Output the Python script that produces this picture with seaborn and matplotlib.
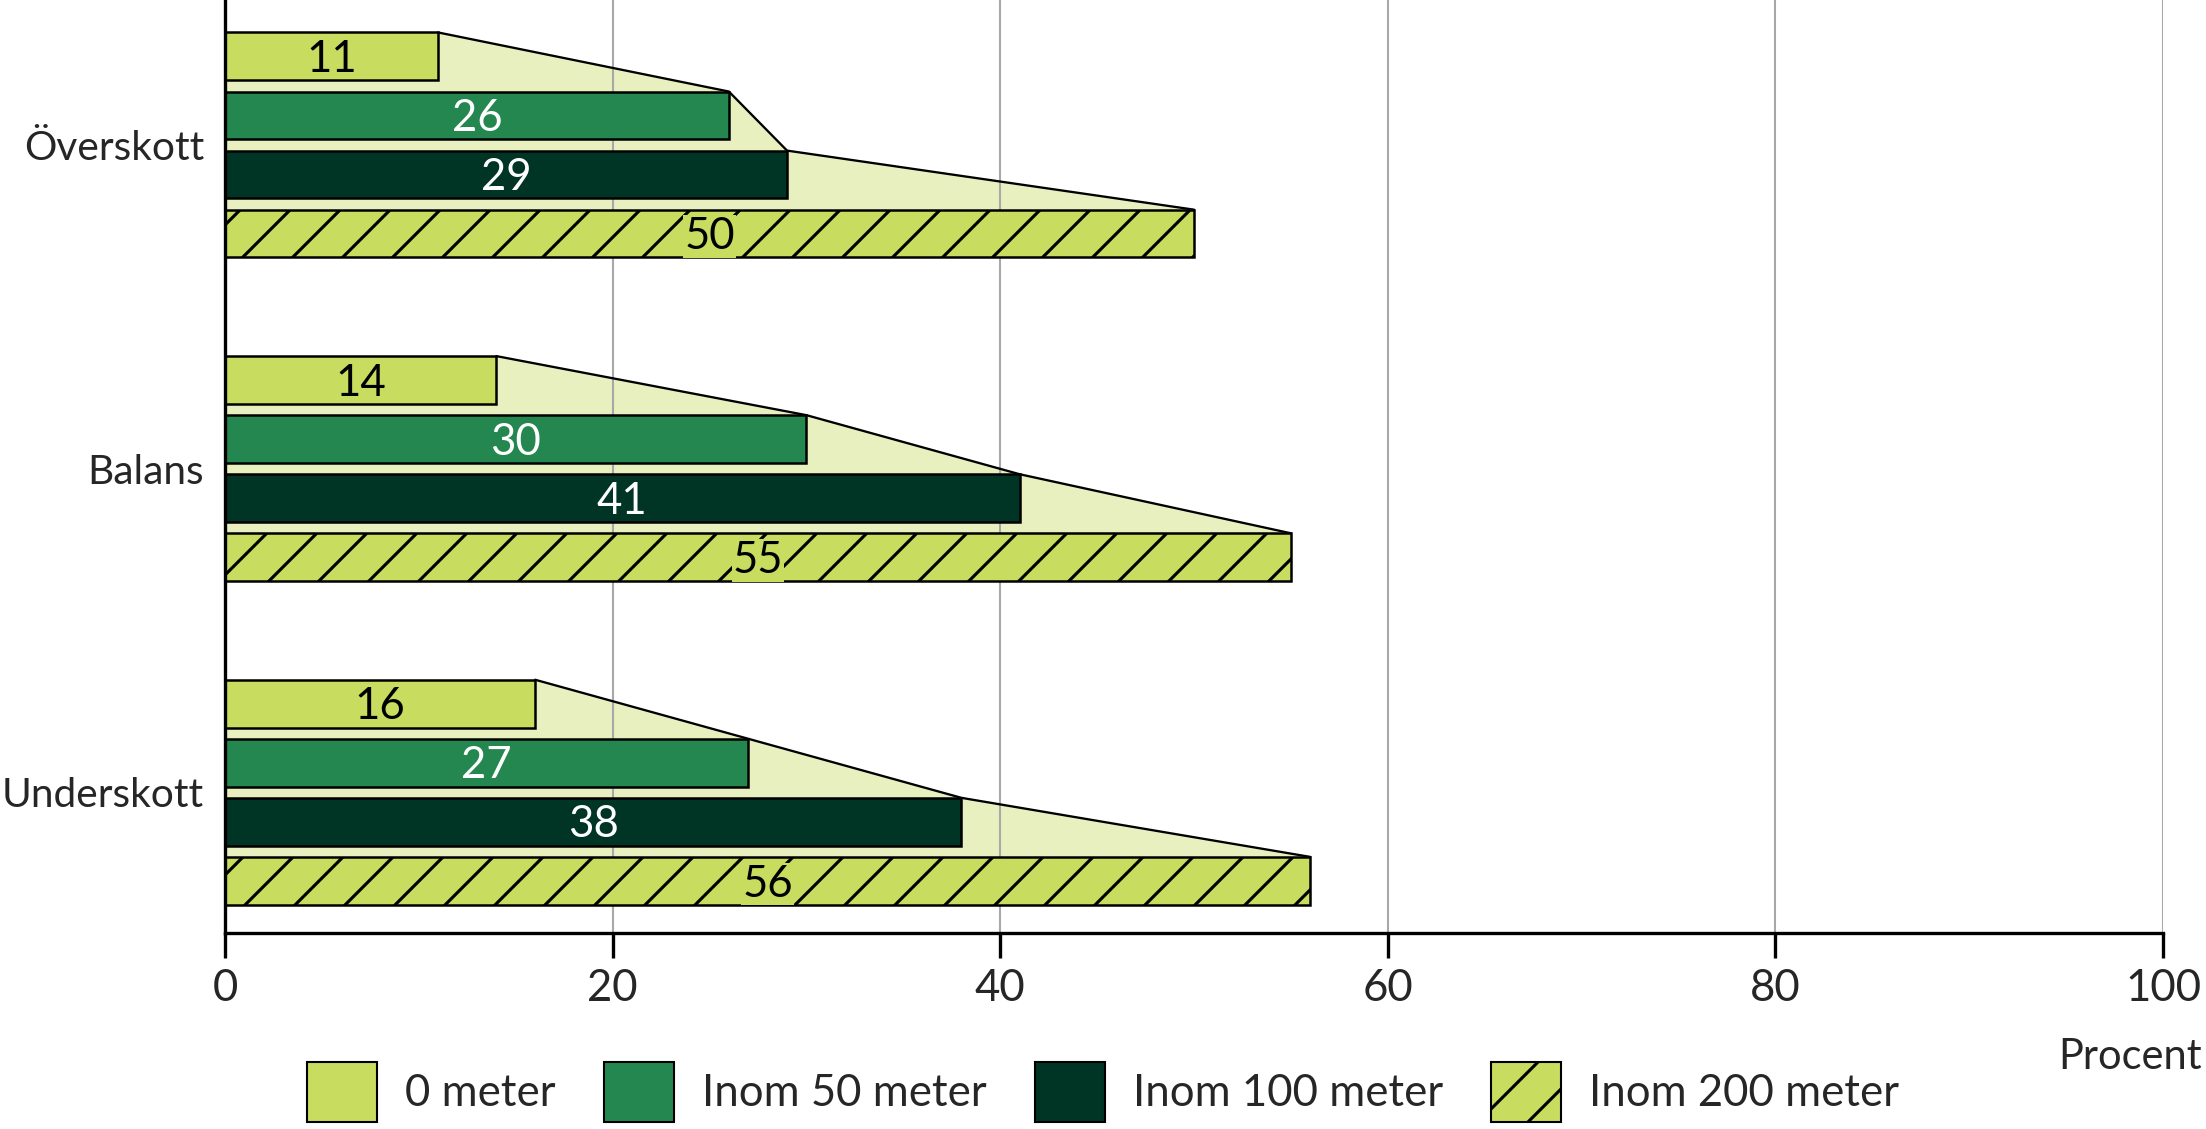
import matplotlib
matplotlib.use("Agg")
import matplotlib.pyplot as plt
from matplotlib.patches import Patch, Polygon
import seaborn as sns
import pandas as pd

categories = ["Överskott", "Balans", "Underskott"]
series = ["0 meter", "Inom 50 meter", "Inom 100 meter", "Inom 200 meter"]
v_0m = [11, 14, 16]
v_50m = [26, 30, 27]
v_100m = [29, 41, 38]
v_200m = [50, 55, 56]
xticks = [0, 20, 40, 60, 80, 100]
xlabel = "Procent"

colors = {"0 meter": "#c8dc5f", "Inom 50 meter": "#258750",
          "Inom 100 meter": "#003526", "Inom 200 meter": "#c8dc5f"}
fill_color = "#e8f0c0"
text_colors = ["black", "white", "white", "black"]

sns.set_theme(style="white")
plt.rcParams["font.family"] = ["Lato", "DejaVu Sans"]
plt.rcParams["hatch.linewidth"] = 1.5

rows = []
for s, vals in zip(series, [v_0m, v_50m, v_100m, v_200m]):
    for c, v in zip(categories, vals):
        rows.append({"cat": c, "series": s, "value": v})
df = pd.DataFrame(rows)

fig = plt.figure(figsize=(2206 / 150, 1129 / 150), dpi=150)
ax = fig.add_axes([0.102, 0.1736, 0.8785, 0.8264])

sns.barplot(data=df, y="cat", x="value", hue="series", order=categories,
            hue_order=series, palette=colors, orient="h", width=0.73, gap=0.19,
            edgecolor="black", linewidth=1.2, saturation=1, legend=False, ax=ax,
            zorder=2)

# hatch the 200 m bars
for bar in ax.containers[3]:
    bar.set_hatch("/")

# shaded polygon per category from bar geometry
for ci in range(len(categories)):
    bars = [ax.containers[si][ci] for si in range(len(series))]
    tops = [b.get_y() for b in bars]
    rights = [b.get_x() + b.get_width() for b in bars]
    verts = [(0, tops[0])] + list(zip(rights, tops)) + [(0, tops[-1])]
    ax.add_patch(Polygon(verts, closed=True, facecolor=fill_color,
                         edgecolor="none", zorder=0.3))
    ax.plot(rights, tops, color="black", lw=1.1, zorder=1.5,
            solid_joinstyle="miter")

# labels
for si, cont in enumerate(ax.containers):
    for bar in cont:
        w = bar.get_width()
        cx = bar.get_x() + w / 2
        cy = bar.get_y() + bar.get_height() / 2
        kw = {}
        if si == 3:
            kw["bbox"] = dict(facecolor=colors[series[si]], edgecolor="none",
                              pad=0.5)
        ax.text(cx, cy + 0.01, f"{w:g}", ha="center", va="center",
                color=text_colors[si], fontsize=21, zorder=4, **kw)

ax.set_xlim(0, 100)
ax.set_ylim(2.435, -0.448)
ax.set_xticks(xticks)
ax.set_xticklabels([str(t) for t in xticks])
ax.set_xlabel("")
ax.set_ylabel("")
ax.set_axisbelow(True)
ax.grid(axis="x", color="#a8a8a8", lw=1.0, zorder=0.5)
ax.grid(axis="y", visible=False)
for side in ["top", "right"]:
    ax.spines[side].set_visible(False)
for side in ["left", "bottom"]:
    ax.spines[side].set_color("black")
    ax.spines[side].set_linewidth(1.6)
    ax.spines[side].set_zorder(5)
ax.tick_params(axis="x", direction="out", length=12, width=1.6, color="black",
               labelsize=21, pad=5, bottom=True)
ax.tick_params(axis="y", length=0, labelsize=19.5, pad=10)

handles = [Patch(facecolor=colors[s], edgecolor="black", linewidth=1.0,
                 hatch="/" if i == 3 else None) for i, s in enumerate(series)]
fig.legend(handles, series, loc="center", bbox_to_anchor=(0.5, 0.033),
           ncol=4, frameon=False, fontsize=21, handlelength=1.6,
           handleheight=1.75, handletextpad=0.64, columnspacing=1.1,
           borderpad=0, borderaxespad=0)
fig.text(0.998, 0.064, xlabel, ha="right", va="center", fontsize=20)

fig.savefig("out.png", dpi=150)
